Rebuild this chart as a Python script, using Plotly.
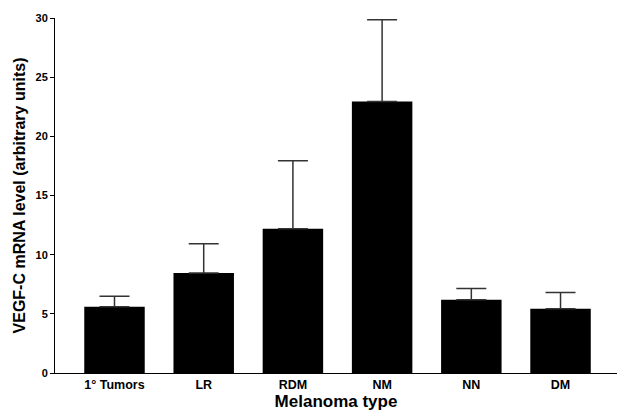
import plotly.graph_objects as go

categories = ["1° Tumors", "LR", "RDM", "NM", "NN", "DM"]
values = [5.6, 8.45, 12.2, 22.95, 6.2, 5.44]
err_top = [6.49, 10.93, 17.94, 29.86, 7.14, 6.8]
y_ticks = [0, 5, 10, 15, 20, 25, 30]

err_plus = [t - v for t, v in zip(err_top, values)]

font_fam = "Liberation Sans, Arial, sans-serif"

fig = go.Figure(go.Bar(
    x=list(range(len(categories))),
    y=values,
    width=0.678,
    marker=dict(color="black", line=dict(width=0)),
    error_y=dict(type="data", symmetric=False, array=err_plus,
                 arrayminus=[0] * len(values),
                 color="#333333", thickness=1.5, width=15),
))

fig.update_layout(
    width=617, height=412,
    margin=dict(l=55, r=0, t=18, b=39),
    plot_bgcolor="white", paper_bgcolor="white",
    showlegend=False,
    font=dict(family=font_fam, color="black"),
)
fig.update_xaxes(
    range=[-0.667, 5.633],
    tickvals=list(range(len(categories))), ticktext=categories,
    showline=True, linecolor="black", linewidth=1,
    ticks="", showgrid=False, zeroline=False,
    tickfont=dict(size=12.5, family=font_fam, weight="bold"),
    title=dict(text="<b>Melanoma type</b>", font=dict(size=17), standoff=1),
)
fig.update_yaxes(
    range=[0, 30], tickvals=y_ticks,
    showline=True, linecolor="black", linewidth=1,
    ticks="outside", ticklen=4, tickcolor="black",
    showgrid=False, zeroline=False,
    tickfont=dict(size=11, family=font_fam, weight="bold"),
    title=dict(text="<b>VEGF-C mRNA level (arbitrary units)</b>", font=dict(size=16), standoff=5),
)

fig.write_html("out.html")
